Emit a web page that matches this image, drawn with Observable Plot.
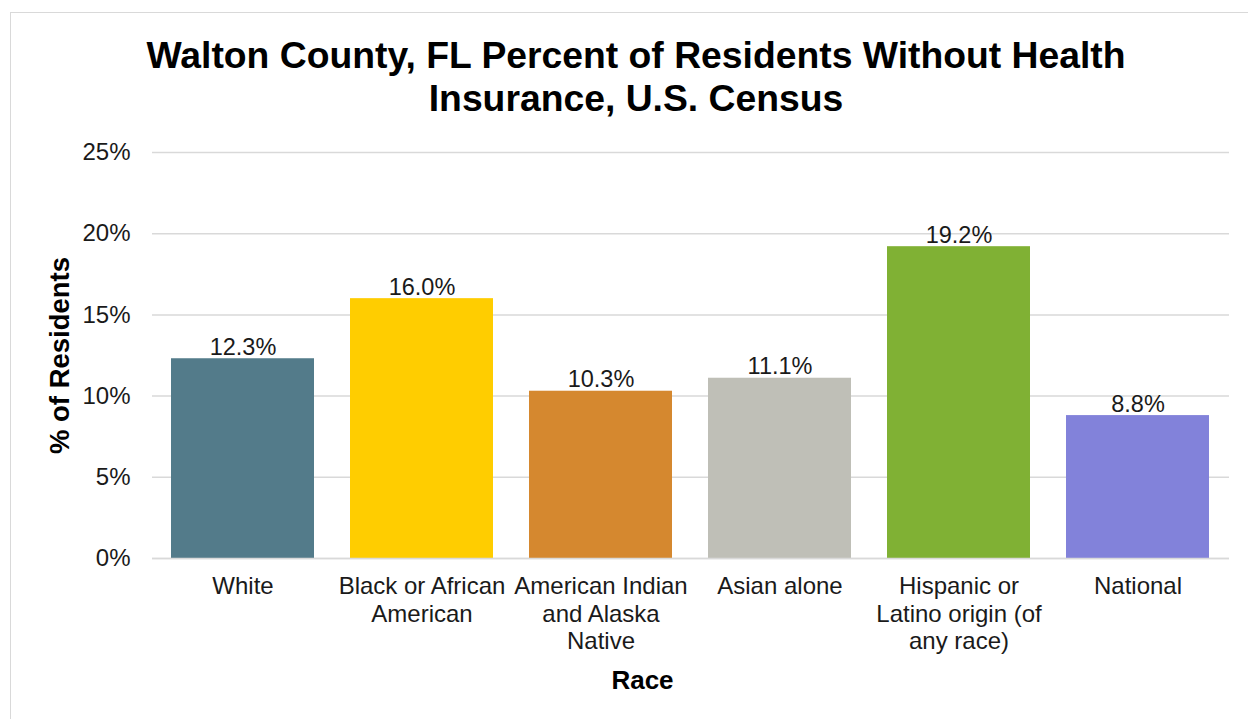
<!DOCTYPE html>
<html>
<head>
<meta charset="utf-8">
<script src="https://cdn.jsdelivr.net/npm/d3@7"></script>
<script src="https://cdn.jsdelivr.net/npm/@observablehq/plot@0.6"></script>
<style>
  html, body { margin: 0; padding: 0; background: #fff; overflow: hidden; }
  #wrap { position: relative; width: 1248px; height: 719px; }
  #frame { position: absolute; left: 10px; top: 12px; width: 1400px; height: 900px; border: 1.5px solid #d9d9d9; box-sizing: border-box; }
  #chart { position: absolute; left: 0; top: 0; }
</style>
</head>
<body>
<div id="wrap"><div id="frame"></div><div id="chart"></div></div>
<script>
const categories = ["White", "Black or African American", "American Indian and Alaska Native", "Asian alone", "Hispanic or Latino origin (of any race)", "National"];
const tickLabels = ["White", "Black or African\nAmerican", "American Indian\nand Alaska\nNative", "Asian alone", "Hispanic or\nLatino origin (of\nany race)", "National"];
const values = [12.3, 16.0, 10.3, 11.1, 19.2, 8.8];
const colors = ["#537b8a", "#ffcd00", "#d5882f", "#bfbfb7", "#80b134", "#8282da"];
const yTicks = [0, 5, 10, 15, 20, 25];
const titleText = "Walton County, FL Percent of Residents Without Health\nInsurance, U.S. Census";
const yLabel = "% of Residents";
const xLabel = "Race";

const data = categories.map((c, i) => ({category: c, value: values[i]}));
const font = "'Liberation Sans', Arial, sans-serif";

const chart = Plot.plot({
  width: 1248,
  height: 719,
  marginTop: 152,
  marginLeft: 152,
  marginRight: 19,
  marginBottom: 161,
  style: {fontFamily: font, fontSize: "24px", background: "transparent", color: "#1a1a1a"},
  x: {domain: categories, paddingInner: 0.2, paddingOuter: 0.1, axis: null},
  y: {domain: [0, 25], axis: null},
  color: {domain: categories, range: colors},
  marks: [
    Plot.gridY(yTicks, {stroke: "#d9d9d9", strokeOpacity: 1, strokeWidth: 1.5}),
    Plot.barY(data, {x: "category", y: "value", fill: "category"}),
    Plot.ruleY([0], {stroke: "#d9d9d9", strokeWidth: 1.5}),
    Plot.text(data, {x: "category", y: "value", text: d => d.value.toFixed(1) + "%", lineAnchor: "bottom", dy: -4, fontSize: 23.5, fill: "#1a1a1a"}),
    Plot.axisX({tickSize: 0, tickPadding: 16, tickFormat: d => tickLabels[categories.indexOf(d)], lineHeight: 1.15, label: null, fontSize: 24, fill: "#1a1a1a"}),
    Plot.axisY(yTicks, {tickSize: 0, tickPadding: 22, tickFormat: d => d + "%", label: null, fontSize: 24, fill: "#1a1a1a"}),
    Plot.text([yLabel], {text: d => d, frameAnchor: "left", rotate: -90, dx: -92, textAnchor: "middle", lineAnchor: "middle", fontSize: 27.5, fontWeight: "bold", fill: "#000"}),
    Plot.text([xLabel], {text: d => d, frameAnchor: "bottom", dx: -48.5, dy: 130, lineAnchor: "bottom", textAnchor: "middle", fontSize: 26, fontWeight: "bold", fill: "#000"}),
    Plot.text([titleText], {text: d => d, frameAnchor: "top", dx: -55, dy: -42, lineAnchor: "bottom", textAnchor: "middle", lineHeight: 1.153, fontSize: 37.3, fontWeight: "bold", fill: "#000"})
  ]
});
document.getElementById("chart").appendChild(chart);
</script>
</body>
</html>
